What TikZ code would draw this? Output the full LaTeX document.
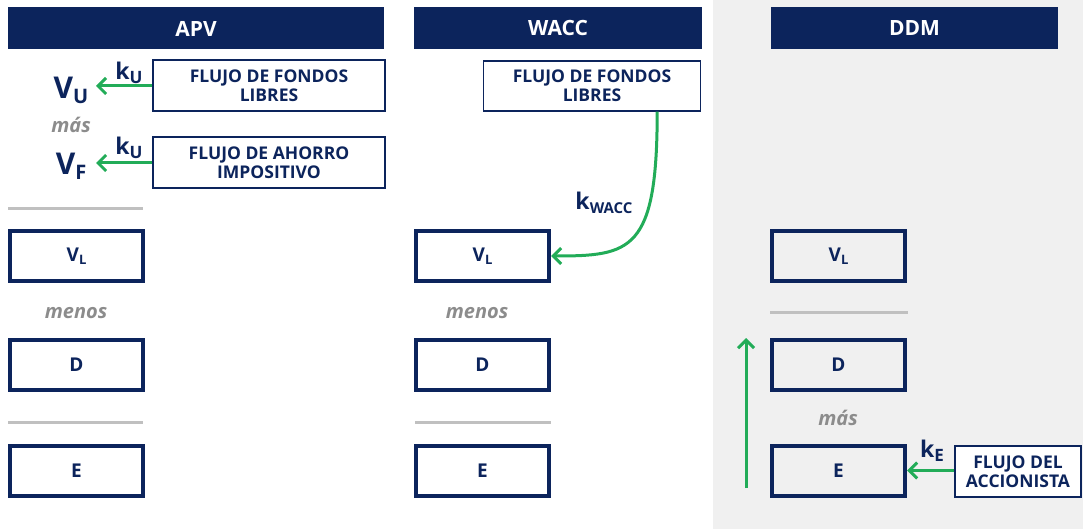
\documentclass[tikz,border=0pt]{standalone}
\usepackage{fontspec}
\setmainfont{Open Sans}
\usetikzlibrary{arrows.meta,calc}

\definecolor{navy}{RGB}{12,36,92}
\definecolor{flowgreen}{RGB}{34,172,88}
\definecolor{sepgray}{RGB}{192,192,192}
\definecolor{notegray}{RGB}{140,140,140}
\definecolor{panelgray}{RGB}{240,240,240}

\newcommand{\fs}[1]{\fontsize{#1}{#1}\selectfont}

\tikzset{
  header/.style={fill=navy, text=white, font=\fs{21}\bfseries,
    minimum height=42pt, inner sep=0pt},
  valbox/.style={draw=navy, line width=4pt, minimum width=133pt,
    minimum height=50pt, inner sep=0pt, text=navy, font=\fs{19}\bfseries},
  flowbox/.style={draw=navy, line width=1.4pt, fill=white, inner sep=0pt,
    align=center, text=navy, font=\fontsize{17.5}{19}\selectfont\bfseries},
  bigval/.style={text=navy, font=\fs{30}\bfseries, anchor=base, inner sep=0pt},
  rate/.style={text=navy, font=\fs{23}\bfseries, anchor=base, inner sep=0pt},
  note/.style={text=notegray, font=\fs{20}\bfseries\itshape, anchor=base, inner sep=0pt},
  sepline/.style={draw=sepgray, line width=3pt},
  flow/.style={draw=flowgreen, line width=3pt,
    -{Straight Barb[length=8pt,width=16pt,line width=3pt]}},
}

\begin{document}
\begin{tikzpicture}[x=1pt, y=-1pt]
\useasboundingbox (0,0) rectangle (1083,529);

% shaded panel behind the dividend discount column
\fill[panelgray] (713,0) rectangle (1083,529);

% column headers
\node[header, minimum width=376pt] (hapv) at (196,28.5) {APV};
\node[header, minimum width=288pt] (hwacc) at (558,28.5) {WACC};
\node[header, minimum width=287pt] (hddm) at (914.5,28.5) {DDM};

% ---------- APV ----------
\node[flowbox, minimum width=232pt, minimum height=51pt] (fcfa) at (269,85.5) {FLUJO DE FONDOS\\LIBRES};
\node[flowbox, minimum width=232pt, minimum height=51pt] (fai) at (269,162.5) {FLUJO DE AHORRO\\IMPOSITIVO};
\node[bigval] (vu) at (71,99) {V\raisebox{-5pt}{\fs{20}U}};
\node[bigval] (vf) at (71,175) {V\raisebox{-5pt}{\fs{20}F}};
\coordinate (vutip) at (96,86);
\coordinate (vftip) at (96,163);
\draw[flow] (fcfa.west |- vutip) -- (vutip);
\draw[flow] (fai.west |- vftip) -- (vftip);
\node[rate] (ku1) at (129,80) {k\raisebox{-4pt}{\fs{17}U}};
\node[rate] (ku2) at (129,155) {k\raisebox{-4pt}{\fs{17}U}};
\node[note] (masa) at (71,133) {más};

\draw[sepline] (8,209) -- (143,209);
\node[valbox, fill=white] (vla) at (76.5,256) {V\raisebox{-3pt}{\fs{13}L}};
\node[note] (menosa) at (76,318) {menos};
\node[valbox, fill=white] (da) at (76.5,365) {D};
\draw[sepline] (8,422) -- (143,422);
\node[valbox, fill=white] (ea) at (76.5,470.5) {E};

% ---------- WACC ----------
\node[flowbox, minimum width=217pt, minimum height=50pt] (fcfw) at (592,86) {FLUJO DE FONDOS\\LIBRES};
\node[valbox, fill=white] (vlw) at (482.5,256) {V\raisebox{-3pt}{\fs{13}L}};
\node[note] (menosw) at (477,318) {menos};
\node[valbox, fill=white] (dw) at (482.5,365) {D};
\draw[sepline] (415,422) -- (551,422);
\node[valbox, fill=white] (ew) at (482.5,470.5) {E};
\coordinate (wstart) at ($(fcfw.south east)+(-44,0)$);
\draw[flow] (wstart) .. controls ($(wstart)+(0,140)$) and ($(vlw.east)+(80,0)$) .. (vlw.east);
\node[rate] (kw) at (604,210) {k\raisebox{-4pt}{\fs{15}WACC}};

% ---------- DDM ----------
\node[valbox] (vld) at (838.5,256) {V\raisebox{-3pt}{\fs{13}L}};
\draw[sepline] (770,312) -- (908,312);
\node[valbox] (dd) at (838.5,365) {D};
\node[note] (masd) at (838,425) {más};
\node[valbox] (ed) at (838.5,470.5) {E};
\node[flowbox, minimum width=126pt, minimum height=51pt] (fda) at (1018,471.5) {FLUJO DEL\\ACCIONISTA};
\draw[flow] (fda.west |- ed.east) -- (ed.east);
\node[rate] (ke) at (932,457) {k\raisebox{-4pt}{\fs{17}E}};
\coordinate (upfoot) at (746,488);
\coordinate (uphead) at (746,338);
\draw[flow] (upfoot) -- (uphead);
\end{tikzpicture}
\end{document}
